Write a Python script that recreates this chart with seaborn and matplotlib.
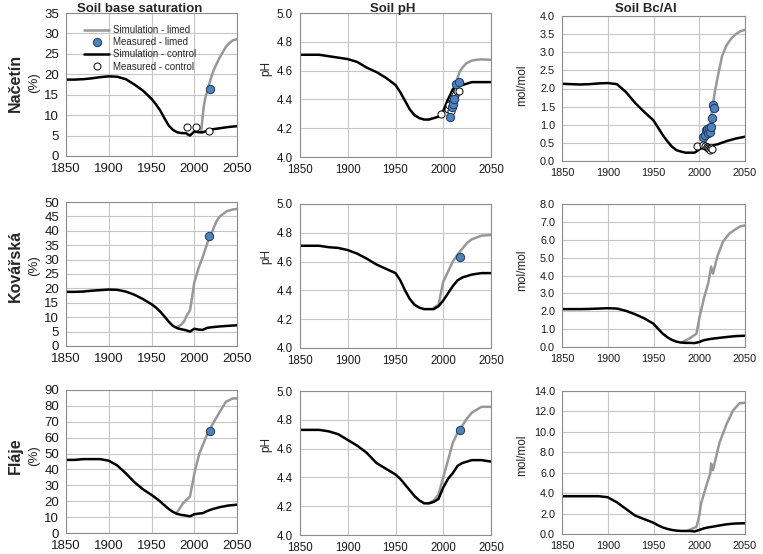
import numpy as np
import pandas as pd
import matplotlib
matplotlib.use("Agg")
import matplotlib.pyplot as plt
from matplotlib.lines import Line2D
from matplotlib.ticker import FormatStrFormatter
import seaborn as sns

# ---------------- data ----------------
years_ctrl = [1850, 1860, 1870, 1880, 1890, 1900, 1910, 1920, 1930, 1940, 1950, 1955,
              1960, 1965, 1970, 1975, 1980, 1985, 1990, 1995, 2000, 2005, 2010, 2015,
              2020, 2030, 2040, 2050]

# Načetín
nac_bs_ctrl = [18.7, 18.7, 18.8, 19.0, 19.3, 19.5, 19.4, 18.8, 17.5, 16.0, 14.0, 12.7,
               11.2, 9.3, 7.5, 6.4, 5.8, 5.6, 5.6, 5.0, 6.0, 5.8, 5.8, 6.2,
               6.5, 6.8, 7.1, 7.3]
nac_bs_lim_yr = [2008, 2011, 2013, 2016, 2019, 2022, 2026, 2030, 2037, 2041, 2045, 2050]
nac_bs_lim = [5.8, 12.0, 14.3, 16.5, 18.7, 20.6, 22.5, 24.2, 26.7, 27.6, 28.3, 28.6]
nac_bs_meas_lim_yr = [2018]
nac_bs_meas_lim = [16.4]
nac_bs_meas_ctrl_yr = [1992, 2002, 2017]
nac_bs_meas_ctrl = [7.1, 7.0, 6.0]

nac_ph_ctrl = [4.71, 4.71, 4.71, 4.70, 4.69, 4.68, 4.66, 4.62, 4.59, 4.55, 4.50, 4.45,
               4.39, 4.33, 4.29, 4.27, 4.26, 4.26, 4.27, 4.28, 4.32, 4.40, 4.47, 4.49,
               4.50, 4.52, 4.52, 4.52]
nac_ph_lim_yr = [2010, 2013, 2017, 2020, 2024, 2030, 2035, 2040, 2050]
nac_ph_lim = [4.47, 4.51, 4.59, 4.62, 4.65, 4.67, 4.675, 4.678, 4.675]
nac_ph_meas_lim_yr = [2007, 2009, 2010, 2011, 2013, 2017]
nac_ph_meas_lim = [4.28, 4.345, 4.37, 4.40, 4.51, 4.52]
nac_ph_meas_ctrl_yr = [1998, 2005, 2006, 2008, 2009, 2010, 2011, 2012, 2014, 2017]
nac_ph_meas_ctrl = [4.30, 4.33, 4.36, 4.32, 4.40, 4.42, 4.44, 4.43, 4.46, 4.46]

nac_bcal_ctrl = [2.13, 2.12, 2.11, 2.12, 2.14, 2.15, 2.12, 1.90, 1.60, 1.35, 1.12, 0.92,
                 0.72, 0.55, 0.40, 0.30, 0.26, 0.23, 0.23, 0.23, 0.32, 0.38, 0.40, 0.43,
                 0.46, 0.55, 0.62, 0.67]
nac_bcal_lim_yr = [2005, 2008, 2011, 2014, 2017, 2020, 2025, 2030, 2035, 2040, 2045, 2050]
nac_bcal_lim = [0.40, 0.60, 0.95, 1.40, 1.90, 2.30, 2.90, 3.20, 3.38, 3.50, 3.58, 3.62]
nac_bcal_meas_lim_yr = [2004, 2006, 2007, 2009, 2010, 2011, 2012, 2013, 2014, 2015, 2016]
nac_bcal_meas_lim = [0.65, 0.72, 0.85, 0.88, 0.78, 0.90, 0.80, 0.95, 1.20, 1.55, 1.45]
nac_bcal_meas_ctrl_yr = [1997, 2004, 2006, 2008, 2009, 2010, 2011, 2012, 2013, 2014]
nac_bcal_meas_ctrl = [0.42, 0.45, 0.42, 0.38, 0.40, 0.35, 0.33, 0.30, 0.35, 0.32]

# Kovářská
kov_bs_ctrl = [18.8, 18.8, 18.9, 19.2, 19.4, 19.6, 19.5, 18.9, 17.8, 16.3, 14.5, 13.4,
               12.0, 10.3, 8.5, 7.0, 6.2, 5.8, 5.5, 5.0, 6.0, 5.7, 5.6, 6.3,
               6.5, 6.8, 7.0, 7.2]
kov_bs_lim_yr = [1980, 1985, 1988, 1992, 1995, 1997, 2000, 2005, 2010, 2016, 2020, 2026,
                 2030, 2038, 2045, 2050]
kov_bs_lim = [6.5, 7.5, 8.5, 11.0, 12.3, 16.0, 22.0, 27.0, 31.0, 36.3, 39.0, 43.3,
              45.0, 46.8, 47.4, 47.6]
kov_bs_meas_lim_yr = [2017]
kov_bs_meas_lim = [38.1]

kov_ph_ctrl = [4.71, 4.71, 4.71, 4.70, 4.695, 4.68, 4.655, 4.62, 4.58, 4.55, 4.52, 4.47,
               4.40, 4.34, 4.30, 4.28, 4.27, 4.27, 4.27, 4.29, 4.33, 4.38, 4.43, 4.47,
               4.49, 4.51, 4.52, 4.52]
kov_ph_lim_yr = [1990, 1995, 2000, 2005, 2010, 2015, 2020, 2025, 2030, 2040, 2050]
kov_ph_lim = [4.28, 4.30, 4.46, 4.53, 4.60, 4.65, 4.69, 4.73, 4.755, 4.78, 4.785]
kov_ph_meas_lim_yr = [2018]
kov_ph_meas_lim = [4.63]

kov_bcal_ctrl = [2.12, 2.12, 2.12, 2.13, 2.15, 2.17, 2.15, 2.02, 1.83, 1.60, 1.30, 1.02,
                 0.75, 0.55, 0.40, 0.30, 0.25, 0.23, 0.23, 0.22, 0.28, 0.38, 0.43, 0.47,
                 0.50, 0.56, 0.61, 0.63]
kov_bcal_lim_yr = [1982, 1990, 1997, 2000, 2005, 2010, 2013, 2015, 2020, 2026, 2033,
                   2040, 2045, 2050]
kov_bcal_lim = [0.28, 0.50, 0.75, 1.60, 2.70, 3.60, 4.50, 4.10, 5.10, 5.90, 6.35,
                6.60, 6.75, 6.80]

# Fláje
fla_bs_ctrl = [46.0, 46.0, 46.5, 46.5, 46.5, 45.5, 42.5, 37.5, 32.0, 27.5, 24.0, 22.0,
               19.9, 17.5, 15.2, 13.3, 12.0, 11.4, 11.0, 10.5, 11.8, 12.2, 12.5, 13.8,
               14.8, 16.3, 17.3, 17.8]
fla_bs_lim_yr = [1979, 1987, 1995, 2001, 2006, 2014, 2022, 2030, 2037, 2045, 2050]
fla_bs_lim = [12.2, 18.8, 23.0, 39.7, 50.0, 60.7, 69.0, 76.4, 82.6, 84.7, 84.7]
fla_bs_meas_lim_yr = [2019]
fla_bs_meas_lim = [64.4]

fla_ph_ctrl = [4.73, 4.73, 4.73, 4.72, 4.70, 4.66, 4.62, 4.57, 4.50, 4.46, 4.42, 4.39,
               4.35, 4.31, 4.27, 4.24, 4.22, 4.22, 4.23, 4.25, 4.33, 4.39, 4.43, 4.48,
               4.50, 4.52, 4.52, 4.51]
fla_ph_lim_yr = [1985, 1990, 1995, 2000, 2005, 2010, 2015, 2020, 2025, 2030, 2040, 2050]
fla_ph_lim = [4.22, 4.24, 4.28, 4.40, 4.52, 4.64, 4.71, 4.76, 4.81, 4.85, 4.89, 4.89]
fla_ph_meas_lim_yr = [2018]
fla_ph_meas_lim = [4.73]

fla_bcal_ctrl = [3.7, 3.7, 3.7, 3.7, 3.7, 3.6, 3.1, 2.45, 1.8, 1.45, 1.1, 0.85,
                 0.65, 0.5, 0.4, 0.33, 0.3, 0.3, 0.3, 0.25, 0.4, 0.55, 0.65, 0.72,
                 0.8, 0.95, 1.03, 1.05]
fla_bcal_lim_yr = [1988, 1997, 2000, 2002, 2008, 2012, 2013, 2015, 2022, 2030, 2037,
                   2044, 2050]
fla_bcal_lim = [0.35, 0.70, 1.80, 3.00, 4.80, 5.90, 6.90, 6.25, 8.90, 10.80, 12.10,
                12.80, 12.85]

col_titles = ["Soil base saturation", "Soil pH", "Soil Bc/Al"]
site_names = ["Načetín", "Kovářská", "Fláje"]

# ---------------- style ----------------
sns.set_style("white")
plt.rcParams["font.family"] = ["Liberation Sans", "DejaVu Sans"]

C_LIM = "#989898"
C_CTRL = "#000000"
C_BLUE = "#4f81bd"
C_BLUE_EDGE = "#1f3a63"
C_GRID = "#c6c6c6"

W, H = 763, 554
fig = plt.figure(figsize=(W / 100, H / 100), dpi=100)


def box(l, t, r, b):
    return [l / W, 1 - b / H, (r - l) / W, (b - t) / H]


boxes = [
    [(66, 13, 237, 156), (300, 13, 491, 157), (562, 16, 745, 161)],
    [(66, 202, 237, 346), (300, 204, 491, 348), (562, 204, 745, 347)],
    [(66, 390, 237, 533), (300, 391, 491, 535), (562, 391, 745, 534)],
]

panels = [
    [
        (nac_bs_ctrl, nac_bs_lim_yr, nac_bs_lim, (nac_bs_meas_lim_yr, nac_bs_meas_lim),
         (nac_bs_meas_ctrl_yr, nac_bs_meas_ctrl)),
        (nac_ph_ctrl, nac_ph_lim_yr, nac_ph_lim, (nac_ph_meas_lim_yr, nac_ph_meas_lim),
         (nac_ph_meas_ctrl_yr, nac_ph_meas_ctrl)),
        (nac_bcal_ctrl, nac_bcal_lim_yr, nac_bcal_lim, (nac_bcal_meas_lim_yr, nac_bcal_meas_lim),
         (nac_bcal_meas_ctrl_yr, nac_bcal_meas_ctrl)),
    ],
    [
        (kov_bs_ctrl, kov_bs_lim_yr, kov_bs_lim, (kov_bs_meas_lim_yr, kov_bs_meas_lim), None),
        (kov_ph_ctrl, kov_ph_lim_yr, kov_ph_lim, (kov_ph_meas_lim_yr, kov_ph_meas_lim), None),
        (kov_bcal_ctrl, kov_bcal_lim_yr, kov_bcal_lim, None, None),
    ],
    [
        (fla_bs_ctrl, fla_bs_lim_yr, fla_bs_lim, (fla_bs_meas_lim_yr, fla_bs_meas_lim), None),
        (fla_ph_ctrl, fla_ph_lim_yr, fla_ph_lim, (fla_ph_meas_lim_yr, fla_ph_meas_lim), None),
        (fla_bcal_ctrl, fla_bcal_lim_yr, fla_bcal_lim, None, None),
    ],
]

ylims = [
    [(0, 35, 5), (4.0, 5.0, 0.2), (0, 4.0, 0.5)],
    [(0, 50, 5), (4.0, 5.0, 0.2), (0, 8.0, 1.0)],
    [(0, 90, 10), (4.0, 5.0, 0.2), (0, 14.0, 2.0)],
]
tick_sizes = [9.5, 8.3, 7.8]

for r in range(3):
    for c in range(3):
        ax = fig.add_axes(box(*boxes[r][c]))
        ctrl, lim_yr, lim, meas_lim, meas_ctrl = panels[r][c]

        sns.lineplot(x=lim_yr, y=lim, ax=ax, color=C_LIM, lw=1.8, estimator=None, sort=False)
        sns.lineplot(x=years_ctrl, y=ctrl, ax=ax, color=C_CTRL, lw=1.8, estimator=None, sort=False)
        if meas_ctrl is not None:
            sns.scatterplot(x=meas_ctrl[0], y=meas_ctrl[1], ax=ax, color="white",
                            edgecolor="black", linewidth=0.7, s=26, zorder=4)
        if meas_lim is not None:
            sns.scatterplot(x=meas_lim[0], y=meas_lim[1], ax=ax, color=C_BLUE,
                            edgecolor=C_BLUE_EDGE, linewidth=0.7, s=36, zorder=5)

        lo, hi, step = ylims[r][c]
        ax.set_xlim(1850, 2050)
        ax.set_ylim(lo, hi)
        ax.set_xticks(np.arange(1850, 2051, 50))
        ax.set_yticks(np.arange(lo, hi + step / 2, step))
        if c > 0:
            ax.yaxis.set_major_formatter(FormatStrFormatter("%.1f"))
        ax.grid(True, color=C_GRID, lw=0.8)
        ax.set_axisbelow(True)
        for sp in ax.spines.values():
            sp.set_color("#8c8c8c")
            sp.set_linewidth(0.8)
        ax.tick_params(axis="both", direction="out", length=3, width=0.8, color="#8c8c8c",
                       labelsize=tick_sizes[c], pad=2, labelcolor="#1a1a1a")
        ax.set_xlabel("")
        ax.set_ylabel("")

        if r == 0 and c == 0:
            handles = [
                Line2D([], [], color=C_LIM, lw=1.8),
                Line2D([], [], ls="", marker="o", markersize=6, markerfacecolor=C_BLUE,
                       markeredgecolor=C_BLUE_EDGE, markeredgewidth=0.7),
                Line2D([], [], color=C_CTRL, lw=1.8),
                Line2D([], [], ls="", marker="o", markersize=5, markerfacecolor="white",
                       markeredgecolor="black", markeredgewidth=0.7),
            ]
            labels = ["Simulation - limed", "Measured - limed",
                      "Simulation - control", "Measured - control"]
            ax.legend(handles, labels, loc="upper left", bbox_to_anchor=(0.105, 0.915),
                      frameon=False, fontsize=7, handlelength=2.6, handletextpad=0.4,
                      labelspacing=0.22, borderpad=0, borderaxespad=0)

# column titles
for x, t in zip([140, 393, 646], col_titles):
    fig.text(x / W, 1 - 9 / H, t, ha="center", va="center", fontsize=9.5, fontweight="bold")

# row labels
for y, name in zip([83, 266, 456], site_names):
    fig.text(15 / W, 1 - y / H, name, rotation=90, ha="center", va="center",
             fontsize=11.5, fontweight="bold")
    fig.text(34 / W, 1 - y / H, "(%)", rotation=90, ha="center", va="center", fontsize=9.5)

for y in [68, 257, 445]:
    fig.text(266 / W, 1 - y / H, "pH", rotation=90, ha="center", va="center", fontsize=8.5)
for y in [85, 270, 455]:
    fig.text(522 / W, 1 - y / H, "mol/mol", rotation=90, ha="center", va="center", fontsize=8.5)

fig.savefig("out.png", dpi=100)
